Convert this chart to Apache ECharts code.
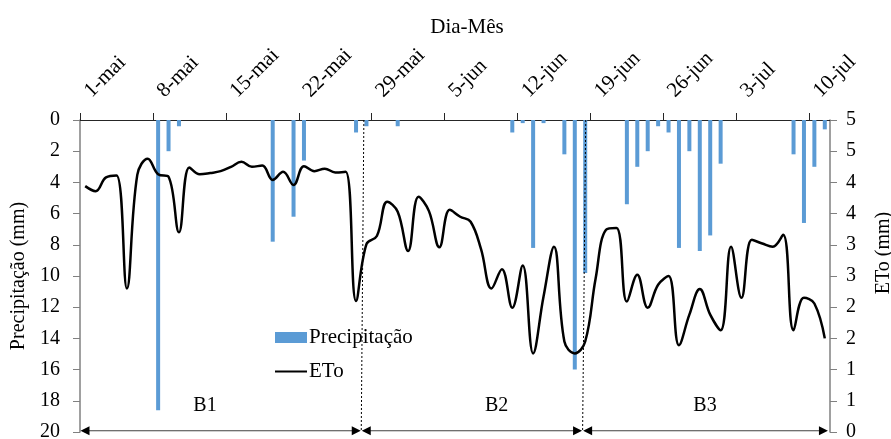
<!DOCTYPE html>
<html><head><meta charset="utf-8">
<script src="https://cdn.jsdelivr.net/npm/echarts@6/dist/echarts.min.js"></script>
<style>html,body{margin:0;padding:0;background:#fff}#c{width:891px;height:439px}</style>
</head><body><div id="c"></div>
<script>
const categories = [
'1-mai','2-mai','3-mai','4-mai','5-mai','6-mai','7-mai','8-mai','9-mai','10-mai',
'11-mai','12-mai','13-mai','14-mai','15-mai','16-mai','17-mai','18-mai','19-mai','20-mai',
'21-mai','22-mai','23-mai','24-mai','25-mai','26-mai','27-mai','28-mai','29-mai','30-mai','31-mai',
'1-jun','2-jun','3-jun','4-jun','5-jun','6-jun','7-jun','8-jun','9-jun','10-jun',
'11-jun','12-jun','13-jun','14-jun','15-jun','16-jun','17-jun','18-jun','19-jun','20-jun',
'21-jun','22-jun','23-jun','24-jun','25-jun','26-jun','27-jun','28-jun','29-jun','30-jun',
'1-jul','2-jul','3-jul','4-jul','5-jul','6-jul','7-jul','8-jul','9-jul','10-jul','11-jul'];
const tickLabels = ['1-mai','8-mai','15-mai','22-mai','29-mai','5-jun','12-jun','19-jun','26-jun','3-jul','10-jul'];
const tickDays = [0,7,14,21,28,35,42,49,56,63,70];
const precipitacao = [
0,0,0,0,0,0,0,18.6,2.0,0.4,
0,0,0,0,0,0,0,0,7.8,0,
6.2,2.6,0,0,0,0,0.8,0.4,0,0,
0.4,0,0,0,0,0,0,0,0,0,
0,0.8,0.2,8.2,0.2,0,2.2,16.0,9.8,0,
0,0,5.4,3.0,2.0,0.4,0.8,8.2,2.0,8.4,
7.4,2.8,0,0,0,0,0,0,2.2,6.6,
3.0,0.6];
const eto = [
3.94,3.86,4.08,4.11,2.30,4.12,4.38,4.13,4.09,3.20,
4.24,4.13,4.15,4.18,4.25,4.33,4.25,4.27,4.04,4.17,
3.96,4.26,4.18,4.22,4.16,4.17,2.10,3.01,3.14,3.69,
3.53,2.90,3.77,3.54,2.96,3.56,3.45,3.37,2.93,2.30,
2.61,1.99,2.67,1.26,2.17,2.97,1.45,1.26,1.45,2.46,
3.24,3.27,2.09,2.52,1.99,2.36,2.50,1.39,1.88,2.29,
1.88,1.63,2.97,2.15,3.08,3.02,2.97,3.16,1.63,2.15,
2.06,1.50];
const blockNames = ['B1','B2','B3'];
const blockRanges = [[0.05,26.95],[27.05,48.2],[48.3,71.8]];
const blockLabelDays = [12,40,60];
const dividerDays = [[27.25,27.0],[48.55,48.25]];

const FONT = "'Liberation Serif','Times New Roman',serif";
const chart = echarts.init(document.getElementById('c'));
chart.setOption({
  animation:false,
  grid:{left:80,right:61,top:120,bottom:7,containLabel:false,outerBoundsMode:'none'},
  legend:{orient:'vertical',left:274,top:327,padding:0,itemWidth:32,itemHeight:11,itemGap:13,
    textStyle:{fontFamily:FONT,fontSize:21,color:'#000',padding:[0,0,0,-3]},
    data:[{name:'Precipitação',icon:'rect'},{name:'ETo',itemStyle:{opacity:0}}]},
  xAxis:[
    {type:'category',data:categories,position:'bottom',show:false,boundaryGap:true,
      axisLine:{show:false,onZero:false},axisTick:{show:false},axisLabel:{show:false}},
    {type:'value',position:'top',min:0,max:72,
      name:'Dia-Mês',nameLocation:'middle',nameGap:82,
      nameTextStyle:{fontFamily:FONT,fontSize:21,color:'#000',padding:[0,0,0,24]},
      axisLine:{show:true,onZero:false,lineStyle:{color:'#262626',width:1}},
      axisTick:{show:true,length:7,customValues:tickDays,lineStyle:{color:'#262626'}},
      axisLabel:{rotate:-45,margin:18,padding:[0,0,0,11],customValues:tickDays,
        formatter:function(v){const i=tickDays.indexOf(v);return i>=0?tickLabels[i]:'';},
        fontFamily:FONT,fontSize:21,color:'#000'},
      splitLine:{show:false}}
  ],
  yAxis:[
    {type:'value',inverse:true,min:0,max:20,interval:2,position:'left',
      name:'Precipitação (mm)',nameLocation:'middle',nameGap:38,
      nameTextStyle:{fontFamily:FONT,fontSize:20,color:'#000'},
      axisLine:{show:true,onZero:false,lineStyle:{color:'#808080',width:1.5}},
      axisTick:{show:true,length:7,lineStyle:{color:'#808080'}},
      axisLabel:{margin:20,fontFamily:FONT,fontSize:20,color:'#000'},
      splitLine:{show:false}},
    {type:'value',min:0,max:5,interval:0.5,position:'right',
      name:'ETo (mm)',nameLocation:'middle',nameGap:44,
      nameTextStyle:{fontFamily:FONT,fontSize:20,color:'#000',padding:[0,0,0,46]},
      axisLine:{show:true,onZero:false,lineStyle:{color:'#808080',width:1.5}},
      axisTick:{show:true,length:7,lineStyle:{color:'#808080'}},
      axisLabel:{margin:16,fontFamily:FONT,fontSize:20,color:'#000',
        formatter:function(v){return String(Math.round(v));}},
      splitLine:{show:false}}
  ],
  series:[
    {name:'Precipitação',type:'bar',xAxisIndex:0,yAxisIndex:0,data:precipitacao,barWidth:4,
      itemStyle:{color:'#5B9BD5'},z:2},
    {name:'ETo',type:'line',xAxisIndex:0,yAxisIndex:1,data:eto,smooth:0.4,symbol:'none',showSymbol:false,
      lineStyle:{color:'#000',width:2.5},itemStyle:{color:'#000'},z:3}
  ]
});

function px(day,mm){return chart.convertToPixel({xAxisIndex:1,yAxisIndex:0},[day,mm]);}
const g=[];
dividerDays.forEach(function(d){
  const a=px(d[0],0), b=px(d[1],20);
  g.push({type:'line',z:10,shape:{x1:a[0],y1:a[1],x2:b[0],y2:b[1]},style:{stroke:'#000',lineWidth:1,lineDash:[2,2]}});
});
blockRanges.forEach(function(r,i){
  const a=px(r[0],19.92), b=px(r[1],19.92);
  const y=a[1];
  g.push({type:'line',z:10,shape:{x1:a[0]+4,y1:y,x2:b[0]-4,y2:y},style:{stroke:'#404040',lineWidth:1}});
  g.push({type:'polygon',z:10,shape:{points:[[a[0],y],[a[0]+9,y-4.5],[a[0]+9,y+4.5]]},style:{fill:'#000'}});
  g.push({type:'polygon',z:10,shape:{points:[[b[0],y],[b[0]-9,y-4.5],[b[0]-9,y+4.5]]},style:{fill:'#000'}});
  const t=px(blockLabelDays[i],18.3);
  g.push({type:'text',z:10,style:{text:blockNames[i],x:t[0],y:t[1],fontFamily:FONT,fontSize:20,fill:'#000',align:'center',verticalAlign:'middle'}});
});
chart.setOption({graphic:g});
</script>
</body></html>
